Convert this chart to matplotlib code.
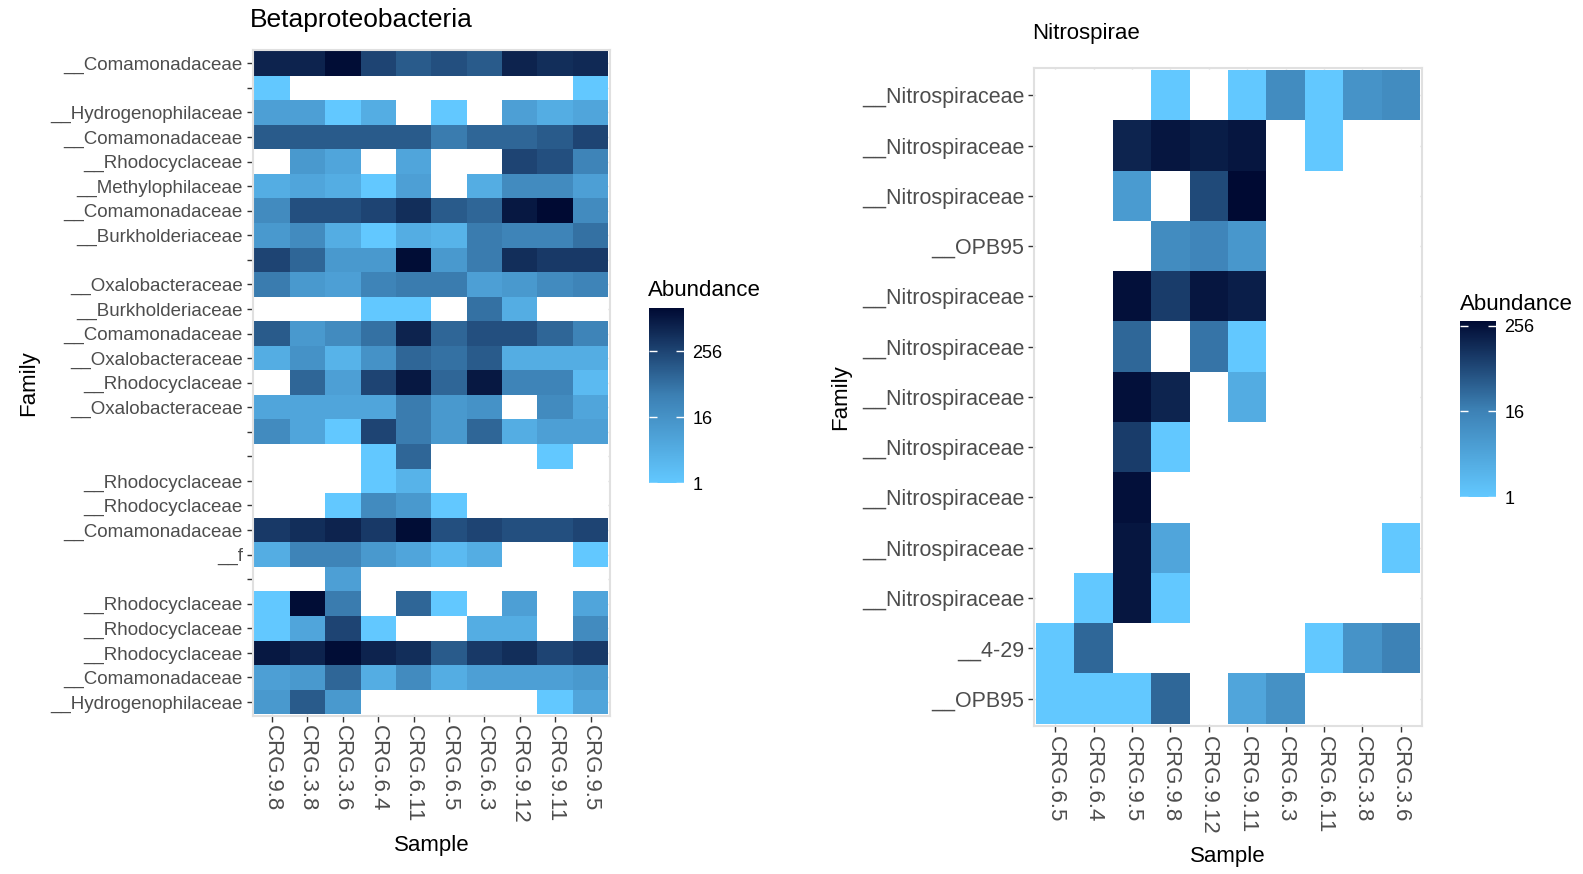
import numpy as np
import matplotlib
matplotlib.use("Agg")
import matplotlib.pyplot as plt
from matplotlib.colors import LinearSegmentedColormap, LogNorm

plt.rcParams['font.family'] = ['Liberation Sans', 'DejaVu Sans']

# ---- Betaproteobacteria ----
beta_samples = ["CRG.9.8", "CRG.3.8", "CRG.3.6", "CRG.6.4", "CRG.6.11",
                "CRG.6.5", "CRG.6.3", "CRG.9.12", "CRG.9.11", "CRG.9.5"]
beta_families = ["__Comamonadaceae", "", "__Hydrogenophilaceae", "__Comamonadaceae",
                 "__Rhodocyclaceae", "__Methylophilaceae", "__Comamonadaceae",
                 "__Burkholderiaceae", "", "__Oxalobacteraceae", "__Burkholderiaceae",
                 "__Comamonadaceae", "__Oxalobacteraceae", "__Rhodocyclaceae",
                 "__Oxalobacteraceae", "", "", "__Rhodocyclaceae", "__Rhodocyclaceae",
                 "__Comamonadaceae", "__f", "", "__Rhodocyclaceae", "__Rhodocyclaceae",
                 "__Rhodocyclaceae", "__Comamonadaceae", "__Hydrogenophilaceae"]
# abundance per family (row) and sample (column); 0 = absent
beta_abundance = [
    [724, 724, 1448, 256, 128, 181, 128, 724, 512, 600],
    [1, 0, 0, 0, 0, 0, 0, 0, 0, 1],
    [8, 8, 1, 4, 0, 1, 0, 8, 4, 6],
    [128, 128, 128, 128, 128, 45, 90, 90, 128, 256],
    [0, 11, 6, 0, 6, 0, 0, 256, 181, 32],
    [4, 6, 4, 1, 8, 0, 4, 23, 23, 8],
    [23, 181, 181, 256, 512, 128, 90, 1024, 1600, 23],
    [11, 23, 4, 1, 4, 3, 45, 32, 32, 64],
    [256, 90, 11, 11, 1448, 11, 45, 512, 362, 362],
    [45, 11, 8, 32, 45, 45, 8, 11, 23, 32],
    [0, 0, 0, 1, 1, 0, 64, 4, 0, 0],
    [128, 11, 23, 64, 724, 90, 181, 181, 90, 32],
    [4, 16, 3, 16, 90, 64, 128, 4, 4, 4],
    [0, 90, 8, 256, 1024, 90, 1024, 32, 32, 2],
    [6, 6, 6, 6, 45, 11, 16, 0, 23, 6],
    [23, 6, 1, 256, 45, 11, 90, 4, 8, 8],
    [0, 0, 0, 1, 90, 0, 0, 0, 1, 0],
    [0, 0, 0, 1, 3, 0, 0, 0, 0, 0],
    [0, 0, 1, 23, 11, 1, 0, 0, 0, 0],
    [362, 512, 724, 362, 1448, 181, 256, 181, 181, 256],
    [4, 32, 32, 11, 6, 2, 4, 0, 0, 1],
    [0, 0, 8, 0, 0, 0, 0, 0, 0, 0],
    [1, 1448, 45, 0, 90, 1, 0, 8, 0, 6],
    [1, 6, 256, 1, 0, 0, 4, 4, 0, 23],
    [1024, 724, 1448, 724, 512, 128, 362, 512, 256, 362],
    [8, 11, 90, 4, 23, 4, 8, 8, 8, 11],
    [11, 128, 11, 0, 0, 0, 0, 0, 1, 6],
]

# ---- Nitrospirae ----
nitro_samples = ["CRG.6.5", "CRG.6.4", "CRG.9.5", "CRG.9.8", "CRG.9.12",
                 "CRG.9.11", "CRG.6.3", "CRG.6.11", "CRG.3.8", "CRG.3.6"]
nitro_families = ["__Nitrospiraceae", "__Nitrospiraceae", "__Nitrospiraceae", "__OPB95",
                  "__Nitrospiraceae", "__Nitrospiraceae", "__Nitrospiraceae",
                  "__Nitrospiraceae", "__Nitrospiraceae", "__Nitrospiraceae",
                  "__Nitrospiraceae", "__4-29", "__OPB95"]
nitro_abundance = [
    [0, 0, 0, 1, 0, 1, 11, 1, 8, 11],
    [0, 0, 160, 220, 190, 220, 0, 1, 0, 0],
    [0, 0, 6, 0, 64, 300, 0, 0, 0, 0],
    [0, 0, 0, 11, 14, 7, 0, 0, 0, 0],
    [0, 0, 256, 90, 220, 181, 0, 0, 0, 0],
    [0, 0, 32, 0, 23, 1, 0, 0, 0, 0],
    [0, 0, 256, 160, 0, 3, 0, 0, 0, 0],
    [0, 0, 90, 1, 0, 0, 0, 0, 0, 0],
    [0, 0, 256, 0, 0, 0, 0, 0, 0, 0],
    [0, 0, 220, 4, 0, 0, 0, 0, 0, 1],
    [0, 1, 220, 1, 0, 0, 0, 0, 0, 0],
    [1, 32, 0, 0, 0, 0, 0, 1, 8, 16],
    [1, 1, 1, 32, 0, 4, 9, 0, 0, 0],
]

cbar_ticks = [1, 16, 256]

cmap = LinearSegmentedColormap.from_list("abund", ["#62C8FF", "#3C80B4", "#000A33"])
cmap.set_bad("white")

W, H = 1583, 874
fig = plt.figure(figsize=(W / 100, H / 100), dpi=100)


def box(x0, y0, x1, y1):
    # pixel box (top-left origin) -> figure rect
    return [x0 / W, 1 - y1 / H, (x1 - x0) / W, (y1 - y0) / H]


def heatmap(ax, cax, data, families, samples, ylab_size):
    arr = np.array(data, dtype=float)
    arr = np.ma.masked_where(arr <= 0, arr)
    nrow, ncol = arr.shape
    norm = LogNorm(vmin=1, vmax=arr.max())
    ax.set_axisbelow(True)
    ax.grid(True, color="#EBEBEB", lw=1)
    mesh = ax.pcolormesh(np.arange(ncol + 1) - 0.5, np.arange(nrow + 1) - 0.5, arr,
                         cmap=cmap, norm=norm, shading="flat")
    ax.set_xlim(-0.55, ncol - 0.45)
    ax.set_ylim(nrow - 0.45, -0.55)
    ax.set_xticks(np.arange(ncol))
    ax.set_xticklabels(samples, rotation=270, fontsize=16, color="#4D4D4D")
    ax.set_yticks(np.arange(nrow))
    ax.set_yticklabels(families, fontsize=ylab_size, color="#4D4D4D")
    ax.tick_params(length=4, width=1, color="#333333", pad=3)
    for s in ax.spines.values():
        s.set_color("#E0E0E0")
        s.set_linewidth(1.5)
    ax.set_xlabel("Sample", fontsize=16, labelpad=8)
    ax.set_ylabel("Family", fontsize=16, labelpad=8)

    cb = fig.colorbar(mesh, cax=cax)
    cb.outline.set_visible(False)
    cb.ax.minorticks_off()
    cb.set_ticks(cbar_ticks)
    cb.set_ticklabels([str(t) for t in cbar_ticks])
    cb.ax.tick_params(direction="in", length=6, width=1, color="white",
                      left=True, right=True, labelsize=13, pad=6)
    return cb


ax1 = fig.add_axes(box(252.6, 49.8, 610, 715.5))
cax1 = fig.add_axes(box(649, 308, 684, 483))
heatmap(ax1, cax1, beta_abundance, beta_families, beta_samples, 13.5)
fig.text(250 / W, 1 - 20 / H, "Betaproteobacteria", fontsize=19, ha="left", va="center")
fig.text(648 / W, 1 - 291 / H, "Abundance", fontsize=16, ha="left", va="center")

ax2 = fig.add_axes(box(1034, 67.6, 1422, 726.2))
cax2 = fig.add_axes(box(1460, 321, 1496, 497))
heatmap(ax2, cax2, nitro_abundance, nitro_families, nitro_samples, 15.5)
fig.text(1032 / W, 1 - 34 / H, "Nitrospirae", fontsize=16, ha="left", va="center")
fig.text(1460 / W, 1 - 304 / H, "Abundance", fontsize=16, ha="left", va="center")

fig.savefig("out.png", dpi=100)
